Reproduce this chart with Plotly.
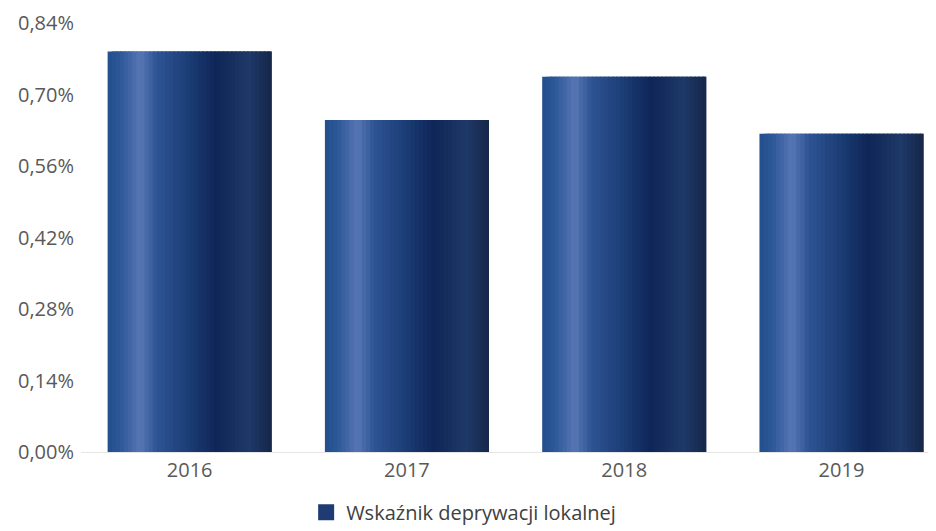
import plotly.graph_objects as go

years = ["2016", "2017", "2018", "2019"]
values = [0.784, 0.650, 0.735, 0.623]
tick_vals = [0.00, 0.14, 0.28, 0.42, 0.56, 0.70, 0.84]
tick_text = ["0,00%", "0,14%", "0,28%", "0,42%", "0,56%", "0,70%", "0,84%"]
series_name = "Wskaźnik deprywacji lokalnej"

# cylinder-like shading profile (fraction of bar width -> colour)
stops = [
    (0.00, (36, 78, 140)),
    (0.08, (45, 88, 152)),
    (0.20, (88, 118, 180)),
    (0.30, (46, 84, 148)),
    (0.50, (27, 60, 116)),
    (0.66, (15, 38, 88)),
    (0.76, (22, 47, 94)),
    (0.86, (30, 57, 104)),
    (0.95, (25, 45, 84)),
    (1.00, (22, 38, 74)),
]


def colour_at(f):
    for (f0, c0), (f1, c1) in zip(stops[:-1], stops[1:]):
        if f0 <= f <= f1:
            t = (f - f0) / (f1 - f0) if f1 > f0 else 0
            c = [round(a + (b - a) * t) for a, b in zip(c0, c1)]
            return "rgb(%d,%d,%d)" % tuple(c)
    return "rgb(%d,%d,%d)" % stops[-1][1]


N = 40
W = 0.755
sw = W / N
fig = go.Figure()
for i in range(N):
    f = (i + 0.5) / N
    w = sw * 2.5 if i < N - 1 else sw
    w = min(w, W - i * sw)
    fig.add_trace(go.Bar(
        x=years, y=values,
        width=w, offset=-W / 2 + i * sw,
        marker=dict(color=colour_at(f), line=dict(width=0)),
        name=series_name,
        showlegend=False,
        hoverinfo="skip",
    ))
# legend entry
fig.add_trace(go.Scatter(
    x=[years[0]], y=[None],
    mode="markers",
    marker=dict(symbol="square", size=18, color="rgb(30,60,115)"),
    name=series_name, showlegend=True,
))

fig.update_layout(
    width=928, height=523,
    margin=dict(l=73, r=0, t=15, b=79, autoexpand=False),
    paper_bgcolor="white", plot_bgcolor="white",
    barmode="overlay",
    font=dict(family="Open Sans, DejaVu Sans, sans-serif", size=20, color="#595959"),
    xaxis=dict(
        type="category", range=[-0.5, 3.435], automargin=False,
        showgrid=False, showline=True, linecolor="#e6e6e6", linewidth=1,
        ticks="", tickfont=dict(size=20, color="#595959"),
    ),
    yaxis=dict(
        range=[0, 0.84], tickvals=tick_vals, ticktext=tick_text,
        automargin=False, ticklabeloverflow="allow",
        showgrid=False, zeroline=False, showline=False,
        ticks="", ticklabelstandoff=6,
        tickfont=dict(size=20, color="#595959"),
    ),
    legend=dict(
        orientation="h", xref="container", yref="container",
        x=0.491, xanchor="center", y=0.036, yanchor="middle",
        font=dict(size=20, color="#404040"),
        itemsizing="trace",
    ),
    showlegend=True,
)

fig.write_html("out.html")
